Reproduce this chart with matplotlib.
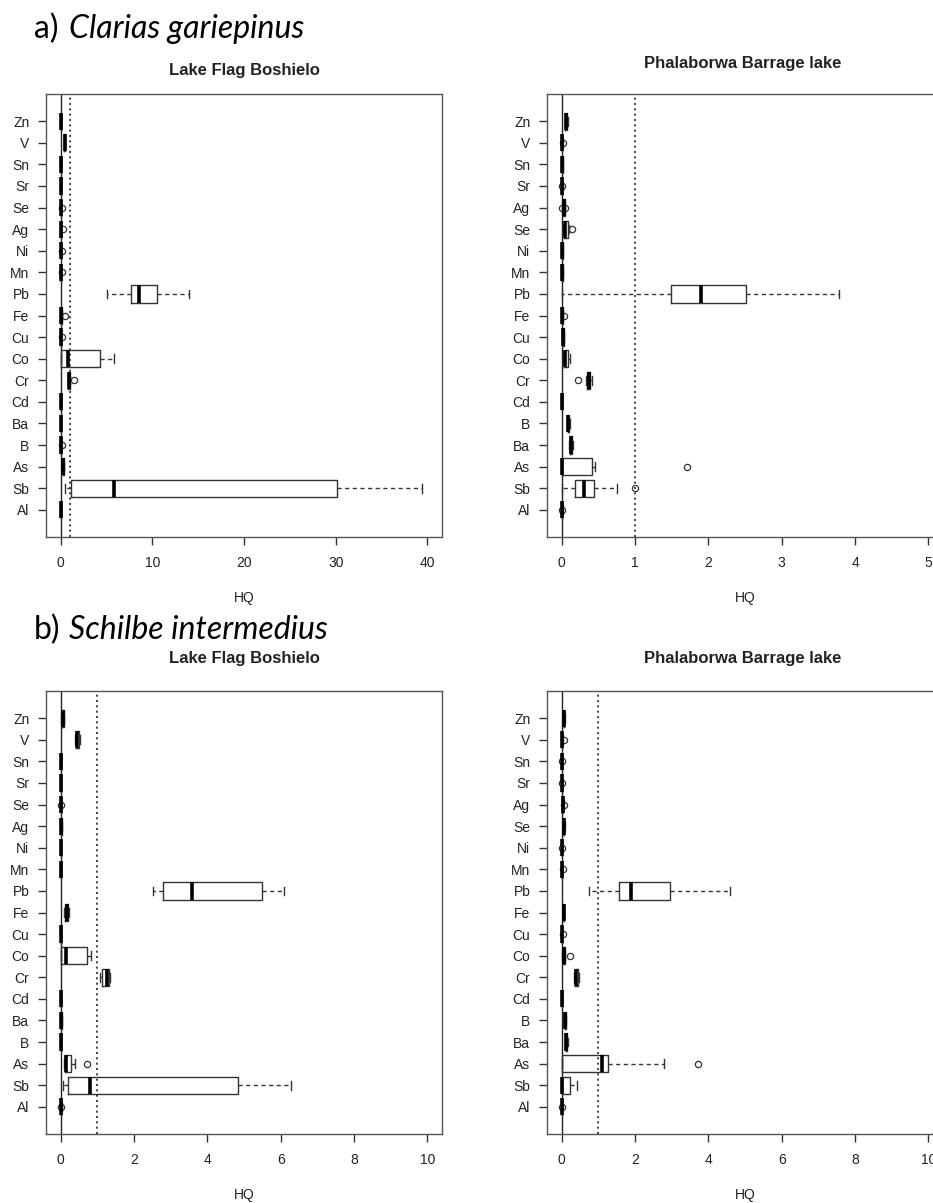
import matplotlib
matplotlib.use("Agg")
import matplotlib.pyplot as plt

plt.rcParams['font.family'] = ['Liberation Sans', 'DejaVu Sans']

# element order bottom -> top (as drawn by R boxplot, horizontal)
FB_ELEMENTS = ['Al', 'Sb', 'As', 'B', 'Ba', 'Cd', 'Cr', 'Co', 'Cu', 'Fe',
               'Pb', 'Mn', 'Ni', 'Ag', 'Se', 'Sr', 'Sn', 'V', 'Zn']
PB_ELEMENTS = ['Al', 'Sb', 'As', 'Ba', 'B', 'Cd', 'Cr', 'Co', 'Cu', 'Fe',
               'Pb', 'Mn', 'Ni', 'Se', 'Ag', 'Sr', 'Sn', 'V', 'Zn']

# a) Clarias gariepinus - Lake Flag Boshielo
CG_FB_WLO = [0, 0.5, 0.15, 0, 0, 0, 0.75, 0.0, 0, 0.0, 5.06, 0, 0, 0, 0, 0, 0, 0.38, 0.0]
CG_FB_Q1 = [0, 1.17, 0.2, 0, 0, 0, 0.82, 0.07, 0, 0.03, 7.65, 0, 0, 0, 0, 0, 0, 0.4, 0.02]
CG_FB_MED = [0.01, 5.83, 0.25, 0.02, 0.01, 0.01, 0.9, 0.8, 0.02, 0.06, 8.56, 0.02, 0.02, 0.01, 0.02, 0.01, 0.01, 0.45, 0.04]
CG_FB_Q3 = [0.03, 30.1, 0.32, 0.05, 0.03, 0.02, 0.98, 4.34, 0.05, 0.1, 10.46, 0.05, 0.04, 0.03, 0.05, 0.02, 0.02, 0.5, 0.07]
CG_FB_WHI = [0.05, 39.4, 0.38, 0.08, 0.04, 0.03, 1.05, 5.83, 0.07, 0.15, 14.0, 0.08, 0.07, 0.05, 0.08, 0.03, 0.03, 0.52, 0.09]
CG_FB_OUT = [[], [], [], [0.1], [], [], [1.42], [], [0.1], [0.45], [], [0.1], [0.12], [0.25], [0.12], [], [], [], []]

# a) Clarias gariepinus - Phalaborwa Barrage lake
CG_PB_WLO = [0, 0.01, 0.0, 0.10, 0.07, 0, 0.33, 0.02, 0.01, 0, 0.0, 0, 0, 0.02, 0.01, 0, 0, 0, 0.04]
CG_PB_Q1 = [0, 0.18, 0.0, 0.11, 0.08, 0, 0.345, 0.03, 0.015, 0.005, 1.49, 0.005, 0.005, 0.03, 0.02, 0, 0.005, 0, 0.05]
CG_PB_MED = [0.005, 0.30, 0.01, 0.125, 0.09, 0.003, 0.37, 0.05, 0.02, 0.01, 1.9, 0.01, 0.01, 0.05, 0.03, 0.005, 0.01, 0.005, 0.06]
CG_PB_Q3 = [0.01, 0.44, 0.41, 0.14, 0.10, 0.006, 0.39, 0.09, 0.025, 0.015, 2.52, 0.012, 0.012, 0.09, 0.04, 0.01, 0.012, 0.01, 0.075]
CG_PB_WHI = [0.015, 0.75, 0.45, 0.15, 0.11, 0.01, 0.41, 0.11, 0.03, 0.02, 3.78, 0.015, 0.015, 0.1, 0.05, 0.012, 0.015, 0.012, 0.08]
CG_PB_OUT = [[0.01], [1.0], [1.71], [], [], [], [0.22], [], [], [0.03], [], [], [], [0.14], [0.005, 0.045], [0.0], [], [0.015], []]

# b) Schilbe intermedius - Lake Flag Boshielo
SI_FB_WLO = [0, 0.06, 0.08, 0, 0, 0, 1.08, 0.0, 0, 0.1, 2.52, 0, 0, 0.01, 0, 0, 0, 0.4, 0.02]
SI_FB_Q1 = [0, 0.2, 0.11, 0, 0.01, 0, 1.14, 0.02, 0, 0.12, 2.8, 0, 0, 0.015, 0, 0, 0, 0.42, 0.03]
SI_FB_MED = [0.01, 0.79, 0.15, 0.005, 0.02, 0.005, 1.25, 0.15, 0.005, 0.16, 3.59, 0.005, 0.005, 0.02, 0.005, 0.005, 0.005, 0.45, 0.05]
SI_FB_Q3 = [0.02, 4.85, 0.29, 0.01, 0.03, 0.01, 1.32, 0.73, 0.01, 0.2, 5.49, 0.01, 0.01, 0.03, 0.01, 0.01, 0.01, 0.5, 0.08]
SI_FB_WHI = [0.03, 6.28, 0.38, 0.02, 0.04, 0.02, 1.35, 0.84, 0.02, 0.24, 6.1, 0.015, 0.015, 0.035, 0.015, 0.015, 0.015, 0.52, 0.09]
SI_FB_OUT = [[0.01], [], [0.72], [], [], [], [], [], [], [], [], [], [], [], [0.02], [], [], [], []]

# b) Schilbe intermedius - Phalaborwa Barrage lake
SI_PB_WLO = [0, 0, 0, 0.1, 0.07, 0, 0.34, 0.01, 0, 0.03, 0.75, 0, 0, 0.03, 0.01, 0, 0, 0, 0.04]
SI_PB_Q1 = [0, 0.0, 0.0, 0.11, 0.08, 0, 0.36, 0.03, 0, 0.04, 1.55, 0, 0, 0.04, 0.02, 0, 0, 0, 0.05]
SI_PB_MED = [0.005, 0.02, 1.09, 0.13, 0.1, 0.005, 0.4, 0.05, 0.005, 0.05, 1.88, 0.005, 0.005, 0.05, 0.03, 0.005, 0.005, 0.01, 0.06]
SI_PB_Q3 = [0.01, 0.23, 1.27, 0.15, 0.12, 0.01, 0.45, 0.08, 0.01, 0.06, 2.96, 0.01, 0.01, 0.07, 0.04, 0.01, 0.01, 0.02, 0.07]
SI_PB_WHI = [0.015, 0.41, 2.79, 0.17, 0.13, 0.015, 0.47, 0.1, 0.015, 0.07, 4.58, 0.015, 0.015, 0.08, 0.05, 0.015, 0.015, 0.03, 0.08]
SI_PB_OUT = [[0.02], [], [3.73], [], [], [], [], [0.23], [0.03], [], [], [0.04], [0.0], [], [0.06], [0.0], [0.0], [0.05], []]

W, H = 933, 1203
fig = plt.figure(figsize=(W / 100, H / 100), dpi=100)

LINE = '#333333'


def px_axes(left, top, right, bottom):
    return fig.add_axes([left / W, 1 - bottom / H, (right - left) / W, (bottom - top) / H])


def draw_panel(ax, labels, wlo, q1, med, q3, whi, out, xlim, xticks):
    stats = []
    for i in range(len(labels)):
        stats.append(dict(whislo=wlo[i], q1=q1[i], med=med[i], q3=q3[i],
                          whishi=whi[i], fliers=out[i]))
    pos = list(range(1, len(labels) + 1))
    ax.axvline(0, color='#222222', lw=1.0, zorder=1)
    ax.axvline(1, color='#222222', lw=1.2, ls=(0, (1.2, 2.0)), zorder=1)
    ax.bxp(stats, positions=pos, widths=0.8, capwidths=0.4,
           orientation='horizontal', patch_artist=False,
           boxprops=dict(color=LINE, lw=1.0),
           medianprops=dict(color='black', lw=2.6, solid_capstyle='butt'),
           whiskerprops=dict(color=LINE, lw=1.0, ls=(0, (3, 2.5))),
           capprops=dict(color=LINE, lw=1.0),
           flierprops=dict(marker='o', mfc='none', mec=LINE, ms=4.5, mew=0.9))
    ax.set_xlim(*xlim)
    ax.set_ylim(0.5 - 0.76, len(labels) + 0.5 + 0.76)
    ax.set_yticks(pos, labels)
    ax.set_xticks(xticks, [str(t) for t in xticks])
    ax.tick_params(axis='both', direction='out', length=6, width=1.0,
                   color=LINE, labelsize=10, labelcolor='#222222')
    ax.tick_params(axis='x', pad=8)
    ax.tick_params(axis='y', pad=6)
    for s in ax.spines.values():
        s.set_color('#555555')
        s.set_linewidth(1.0)
    ax.set_xlabel('HQ', fontsize=10, color='#222222')
    ax.xaxis.set_label_coords(0.5, -0.122)


ax1 = px_axes(46, 94, 442, 537)
draw_panel(ax1, FB_ELEMENTS, CG_FB_WLO, CG_FB_Q1, CG_FB_MED, CG_FB_Q3, CG_FB_WHI, CG_FB_OUT,
           (-1.6, 41.6), [0, 10, 20, 30, 40])
ax2 = px_axes(547, 94, 943, 537)
draw_panel(ax2, PB_ELEMENTS, CG_PB_WLO, CG_PB_Q1, CG_PB_MED, CG_PB_Q3, CG_PB_WHI, CG_PB_OUT,
           (-0.2, 5.2), [0, 1, 2, 3, 4, 5])
ax3 = px_axes(46, 691, 442, 1134)
draw_panel(ax3, FB_ELEMENTS, SI_FB_WLO, SI_FB_Q1, SI_FB_MED, SI_FB_Q3, SI_FB_WHI, SI_FB_OUT,
           (-0.4, 10.4), [0, 2, 4, 6, 8, 10])
ax4 = px_axes(547, 691, 943, 1134)
draw_panel(ax4, PB_ELEMENTS, SI_PB_WLO, SI_PB_Q1, SI_PB_MED, SI_PB_Q3, SI_PB_WHI, SI_PB_OUT,
           (-0.4, 10.4), [0, 2, 4, 6, 8, 10])

# panel titles
title_kw = dict(ha='center', va='baseline', fontsize=12, fontweight='bold', color='#222222')
fig.text(244 / W, 1 - 75 / H, 'Lake Flag Boshielo', **title_kw)
fig.text(743 / W, 1 - 68 / H, 'Phalaborwa Barrage lake', **title_kw)
fig.text(244 / W, 1 - 663 / H, 'Lake Flag Boshielo', **title_kw)
fig.text(743 / W, 1 - 663 / H, 'Phalaborwa Barrage lake', **title_kw)

# species headings
head_kw = dict(ha='left', va='baseline', fontsize=23, family=['Lato', 'DejaVu Sans'], color='black')
fig.text(34 / W, 1 - 38 / H, 'a)', **head_kw)
fig.text(69 / W, 1 - 38 / H, 'Clarias gariepinus', style='italic', **head_kw)
fig.text(34 / W, 1 - 639 / H, 'b)', **head_kw)
fig.text(69 / W, 1 - 639 / H, 'Schilbe intermedius', style='italic', **head_kw)

fig.savefig('out.png', dpi=100)
